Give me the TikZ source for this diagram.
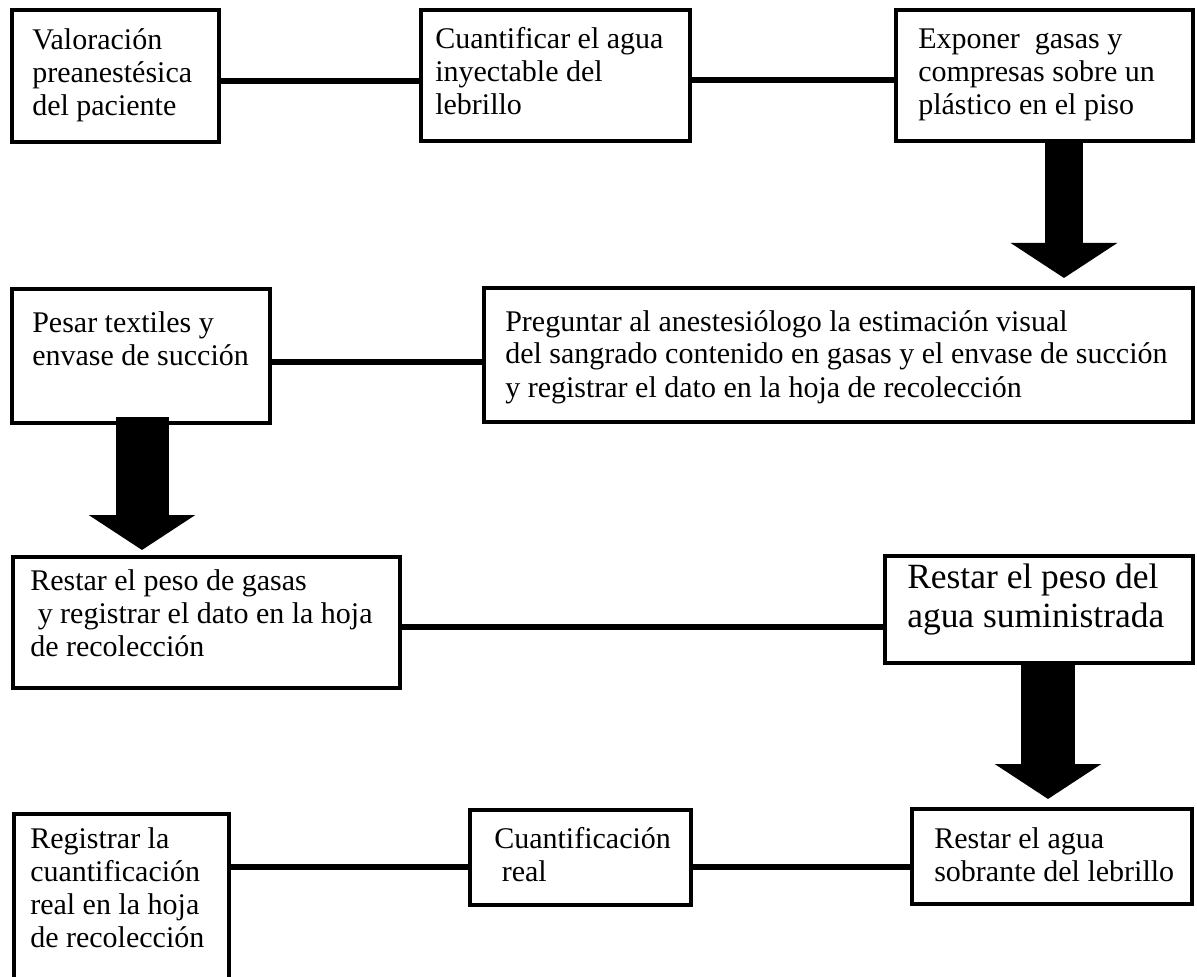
\documentclass[tikz,border=0pt]{standalone}
\usepackage{fontspec}
\setmainfont{Liberation Serif}
\usetikzlibrary{fit,arrows.meta}
\begin{document}
\begin{tikzpicture}[x=0.75pt,y=-0.75pt,
  box/.style={draw=black, line width=3.5pt, inner sep=0pt, rectangle},
  conn/.style={draw=black, line width=3.9pt},
  bigarrow/.style={draw=black, line width=#1, -{Triangle[width=78.75pt,length=26.25pt]}},
  txt/.style={anchor=base west, align=left, inner sep=0pt, font=\fontsize{22.5pt}{24.75pt}\selectfont},
  bigtxt/.style={txt, font=\fontsize{26.6pt}{29.25pt}\selectfont}]
\useasboundingbox (0,0) rectangle (1197,977);
\fill[white] (0,0) rectangle (1197,977);
\clip (0,0) rectangle (1197,977);

% boxes
\node[box, fit={(12,10) (219,142)}] (b1) {};
\node[box, fit={(421,10) (690,141)}] (b2) {};
\node[box, fit={(896,10) (1193,141)}] (b3) {};
\node[box, fit={(484,288) (1193,422)}] (b4) {};
\node[box, fit={(12,289) (270,423)}] (b5) {};
\node[box, fit={(13,557) (400,688)}] (b6) {};
\node[box, fit={(885,556) (1193,663)}] (b7) {};
\node[box, fit={(912,809) (1192,904)}] (b8) {};
\node[box, fit={(470,810) (691,905)}] (b9) {};
\node[box, fit={(14,814) (229,1000)}] (b10) {};

% texts (anchored at the baseline of the last line)
\node[txt] (t1) at (32,116) {Valoración\\preanestésica\\del paciente};
\node[txt] (t2) at (435,115) {Cuantificar el agua\\inyectable del\\lebrillo};
\node[txt] (t3) at (918,115) {Exponer\ \ gasas y\\compresas sobre un\\plástico en el piso};
\node[txt] (t5) at (32,365) {Pesar textiles y\\envase de succión};
\node[txt] (t4) at (505,397) {Preguntar al anestesiólogo la estimación visual\\del sangrado contenido en gasas y el envase de succión\\y registrar el dato en la hoja de recolección};
\node[txt] (t6) at (30,656) {Restar el peso de gasas\\\ y registrar el dato en la hoja\\de recolección};
\node[bigtxt] (t7) at (907,627) {Restar el peso del\\agua suministrada};
\node[txt] (t8) at (934,881) {Restar el agua\\sobrante del lebrillo};
\node[txt] (t9) at (494,881) {Cuantificación\\\ real};
\node[txt] (t10) at (30,947) {Registrar la\\cuantificación\\real en la hoja\\de recolección};

% connectors
\coordinate (c12) at (0,81);
\coordinate (c23) at (0,80);
\coordinate (c54) at (0,362);
\coordinate (c67) at (0,627);
\coordinate (c98) at (0,867);
\draw[conn] (b1.east |- c12) -- (b2.west |- c12);
\draw[conn] (b2.east |- c23) -- (b3.west |- c23);
\draw[conn] (b5.east |- c54) -- (b4.west |- c54);
\draw[conn] (b6.east |- c67) -- (b7.west |- c67);
\draw[conn] (b10.east |- c98) -- (b9.west |- c98);
\draw[conn] (b9.east |- c98) -- (b8.west |- c98);

% block arrows
\coordinate (a1) at (1064,278);
\coordinate (a2) at (142,550);
\coordinate (a3) at (1048,799);
\draw[bigarrow=28.5pt] (b3.south -| a1) -- (a1);
\draw[bigarrow=39.75pt] ([yshift=6pt]b5.south -| a2) -- (a2);
\draw[bigarrow=40.5pt] (b7.south -| a3) -- (a3);
\end{tikzpicture}
\end{document}
